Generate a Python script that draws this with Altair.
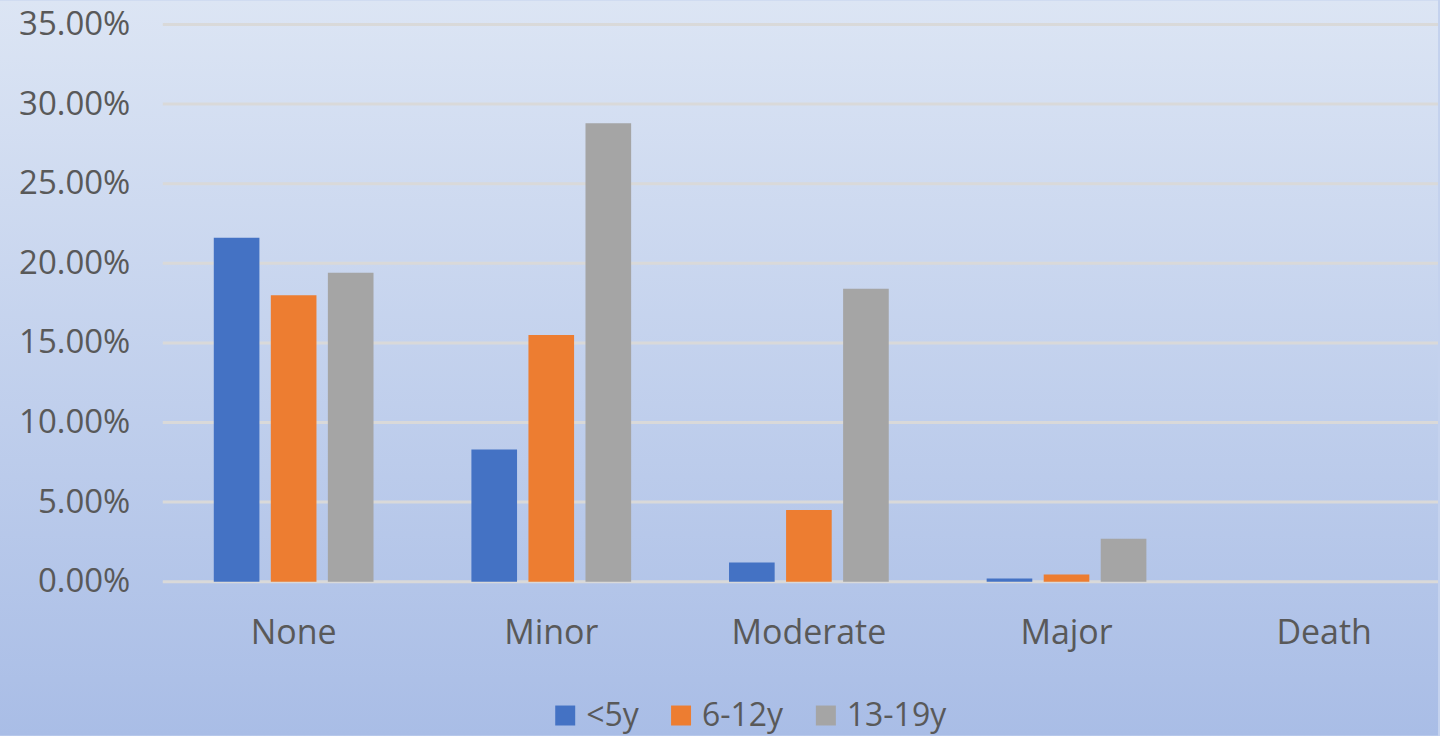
import altair as alt
import pandas as pd

categories = ["None", "Minor", "Moderate", "Major", "Death"]
groups = ["<5y", "6-12y", "13-19y"]
under5 = [0.216, 0.083, 0.012, 0.002, 0.0]
age6_12 = [0.180, 0.155, 0.045, 0.0045, 0.0]
age13_19 = [0.194, 0.288, 0.184, 0.027, 0.0]
colors = ["#4472c4", "#ed7d31", "#a5a5a5"]
grid_ticks = [0.0, 0.05, 0.10, 0.15, 0.20, 0.25, 0.30, 0.35]

rows = []
for g, series in zip(groups, [under5, age6_12, age13_19]):
    for c, v in zip(categories, series):
        rows.append({"cat": c, "grp": g, "val": v})
df = pd.DataFrame(rows)
grid_df = pd.DataFrame({"v": grid_ticks})

W, H = 1277, 558
FONT = "Open Sans"

bg = alt.Chart(alt.Data(values=[{"a": 1}])).mark_rect(
    fill=alt.LinearGradient(
        gradient="linear",
        stops=[alt.GradientStop(color="#dce5f4", offset=0),
               alt.GradientStop(color="#a9bde6", offset=1)],
        x1=0, x2=0, y1=0, y2=1),
).encode(
    x=alt.value(-163), x2=alt.value(W), y=alt.value(-24), y2=alt.value(712)
)

yscale = alt.Scale(domain=[0, 0.35])
yaxis = alt.Axis(format=".2%", values=grid_ticks, grid=False, domain=False, ticks=False,
                 labelFont=FONT, labelFontSize=33, labelColor="#595959", labelPadding=33,
                 zindex=1)

grid = alt.Chart(grid_df).mark_rule(color="#d9d9d9", strokeWidth=3).encode(
    y=alt.Y("v:Q", scale=yscale, axis=yaxis, title=None),
    x=alt.value(0), x2=alt.value(W),
)

bars = alt.Chart(df).mark_bar().encode(
    x=alt.X("cat:N", sort=categories, title=None,
            scale=alt.Scale(paddingInner=0.38, paddingOuter=0.165, align=0.6),
            axis=alt.Axis(domain=False, ticks=False, labelAngle=0, labelFont=FONT,
                          labelFontSize=34, labelColor="#595959", labelPadding=35,
                          zindex=1)),
    xOffset=alt.XOffset("grp:N", sort=groups, scale=alt.Scale(paddingInner=0.2, paddingOuter=0)),
    y=alt.Y("val:Q", scale=yscale, axis=yaxis, title=None),
    color=alt.Color("grp:N", sort=groups, scale=alt.Scale(domain=groups, range=colors),
                    legend=alt.Legend(title=None, orient="none", direction="horizontal",
                                      legendX=387, legendY=676, symbolType="square",
                                      symbolSize=400, symbolStrokeWidth=0, labelFont=FONT,
                                      labelFontSize=32, labelColor="#595959", labelOffset=5,
                                      columnPadding=26, padding=0, zindex=1)),
)

chart = alt.layer(bg, grid, bars).properties(width=W, height=H).configure(
    padding=0, background="#c4d2ee"
).configure_view(stroke=None)

chart.save("out.html", embed_options={"renderer": "svg", "actions": False})
